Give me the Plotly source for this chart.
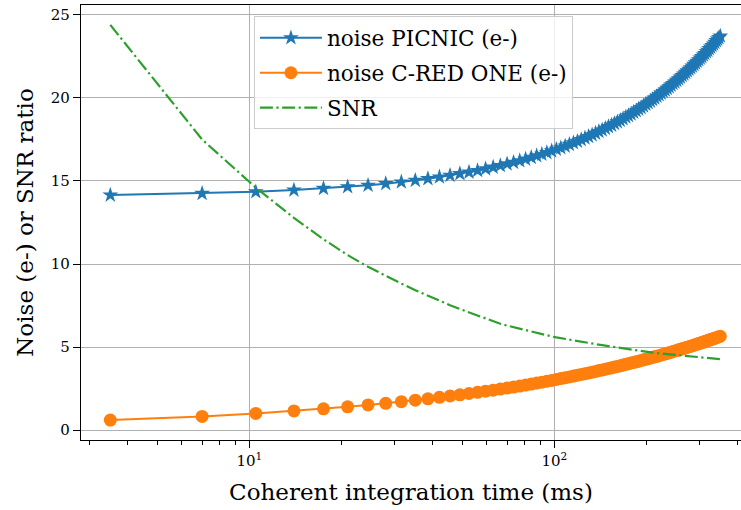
import plotly.graph_objects as go

# Coherent integration time (ms)
t_ms = [3.5, 7, 10.5, 14, 17.5, 21, 24.5, 28, 31.5, 35,
        38.5, 42, 45.5, 49, 52.5, 56, 59.5, 63, 66.5, 70,
        73.5, 77, 80.5, 84, 87.5, 91, 94.5, 98, 101.5, 105,
        108.5, 112, 115.5, 119, 122.5, 126, 129.5, 133, 136.5, 140,
        143.5, 147, 150.5, 154, 157.5, 161, 164.5, 168, 171.5, 175,
        178.5, 182, 185.5, 189, 192.5, 196, 199.5, 203, 206.5, 210,
        213.5, 217, 220.5, 224, 227.5, 231, 234.5, 238, 241.5, 245,
        248.5, 252, 255.5, 259, 262.5, 266, 269.5, 273, 276.5, 280,
        283.5, 287, 290.5, 294, 297.5, 301, 304.5, 308, 311.5, 315,
        318.5, 322, 325.5, 329, 332.5, 336, 339.5, 343, 346.5, 350]

noise_picnic = [14.15, 14.25, 14.35, 14.45, 14.55, 14.65, 14.74, 14.84, 14.94, 15.04,
                15.14, 15.24, 15.34, 15.44, 15.53, 15.63, 15.73, 15.83, 15.93, 16.03,
                16.12, 16.22, 16.32, 16.42, 16.52, 16.61, 16.71, 16.81, 16.91, 17.00,
                17.10, 17.20, 17.30, 17.39, 17.49, 17.59, 17.68, 17.78, 17.88, 17.98,
                18.07, 18.17, 18.27, 18.36, 18.46, 18.56, 18.65, 18.75, 18.85, 18.94,
                19.04, 19.14, 19.23, 19.33, 19.42, 19.52, 19.62, 19.71, 19.81, 19.91,
                20.00, 20.10, 20.19, 20.29, 20.39, 20.48, 20.58, 20.67, 20.77, 20.87,
                20.96, 21.06, 21.15, 21.25, 21.35, 21.44, 21.54, 21.63, 21.73, 21.82,
                21.92, 22.02, 22.11, 22.21, 22.30, 22.40, 22.49, 22.59, 22.68, 22.78,
                22.87, 22.97, 23.06, 23.16, 23.25, 23.35, 23.45, 23.54, 23.63, 23.73]

noise_cred = [0.60, 0.82, 1.00, 1.15, 1.28, 1.40, 1.51, 1.61, 1.71, 1.80,
              1.88, 1.97, 2.05, 2.12, 2.20, 2.27, 2.34, 2.40, 2.47, 2.53,
              2.59, 2.65, 2.71, 2.77, 2.83, 2.88, 2.94, 2.99, 3.05, 3.10,
              3.15, 3.20, 3.25, 3.30, 3.35, 3.39, 3.44, 3.48, 3.53, 3.58,
              3.62, 3.66, 3.71, 3.75, 3.79, 3.83, 3.87, 3.92, 3.96, 4.00,
              4.04, 4.07, 4.11, 4.15, 4.19, 4.23, 4.27, 4.30, 4.34, 4.38,
              4.41, 4.45, 4.48, 4.52, 4.55, 4.59, 4.62, 4.66, 4.69, 4.73,
              4.76, 4.79, 4.83, 4.86, 4.89, 4.92, 4.96, 4.99, 5.02, 5.05,
              5.08, 5.11, 5.15, 5.18, 5.21, 5.24, 5.27, 5.30, 5.33, 5.36,
              5.39, 5.42, 5.45, 5.48, 5.50, 5.53, 5.56, 5.59, 5.62, 5.65]

snr = [24.40, 17.50, 14.60, 12.78, 11.49, 10.54, 9.83, 9.28, 8.82, 8.42,
       8.08, 7.79, 7.52, 7.29, 7.08, 6.88, 6.71, 6.55, 6.40, 6.29,
       6.19, 6.10, 6.01, 5.93, 5.85, 5.77, 5.70, 5.64, 5.58, 5.53,
       5.48, 5.44, 5.40, 5.36, 5.32, 5.28, 5.24, 5.21, 5.17, 5.14,
       5.11, 5.08, 5.05, 5.02, 4.99, 4.96, 4.93, 4.91, 4.88, 4.86,
       4.84, 4.81, 4.79, 4.77, 4.75, 4.72, 4.70, 4.69, 4.67, 4.66,
       4.65, 4.63, 4.62, 4.61, 4.60, 4.59, 4.57, 4.56, 4.55, 4.54,
       4.53, 4.52, 4.51, 4.50, 4.49, 4.48, 4.47, 4.46, 4.45, 4.44,
       4.43, 4.42, 4.41, 4.40, 4.39, 4.38, 4.37, 4.36, 4.36, 4.35,
       4.34, 4.33, 4.32, 4.32, 4.31, 4.30, 4.29, 4.28, 4.28, 4.27]

x_major_ticks = [10, 100]
x_major_labels = ["10<sup>1</sup>", "10<sup>2</sup>"]
x_minor_ticks = [3, 4, 5, 6, 7, 8, 9, 20, 30, 40, 50, 60, 70, 80, 90, 200, 300, 400]
y_ticks = [0, 5, 10, 15, 20, 25]

FONT = "DejaVu Serif"

fig = go.Figure()
fig.add_trace(go.Scatter(
    x=t_ms, y=noise_picnic, mode="lines+markers", name="noise PICNIC (e-)",
    legendgroup="a",
    line=dict(color="#1f77b4", width=2),
    marker=dict(symbol="star", size=12, color="#1f77b4", line=dict(width=0))))
fig.add_trace(go.Scatter(
    x=t_ms, y=noise_cred, mode="lines+markers", name="noise C-RED ONE (e-)",
    legendgroup="b",
    line=dict(color="#ff7f0e", width=2),
    marker=dict(symbol="circle", size=13, color="#ff7f0e", line=dict(width=0))))
fig.add_trace(go.Scatter(
    x=t_ms, y=snr, mode="lines", name="SNR", legendgroup="c",
    line=dict(color="#2ca02c", width=2.2, dash="13px,3.5px,2.2px,3.5px")))

fig.update_layout(
    width=741, height=510,
    margin=dict(l=81, r=0, t=5, b=70, autoexpand=False),
    paper_bgcolor="white", plot_bgcolor="white",
    font=dict(family=FONT, size=15, color="black"),
    showlegend=True,
    legend=dict(x=0.262, y=0.974, xanchor="left", yanchor="top",
                bgcolor="rgba(255,255,255,0.8)", bordercolor="#cccccc", borderwidth=1,
                font=dict(family=FONT, size=21.5), traceorder="grouped", tracegroupgap=4,
                itemwidth=62),
)
fig.update_xaxes(
    type="log", range=[0.448, 2.612], automargin=False,
    tickmode="array", tickvals=x_major_ticks, ticktext=x_major_labels,
    ticks="outside", ticklen=7, tickwidth=1, tickcolor="black",
    tickfont=dict(family=FONT, size=15),
    showgrid=True, gridcolor="#b0b0b0", gridwidth=1,
    showline=True, linecolor="black", linewidth=1.3, mirror=True,
    zeroline=False,
    minor=dict(tickvals=x_minor_ticks, ticks="outside", ticklen=4, tickcolor="black", showgrid=False),
    title=dict(text="Coherent integration time (ms)", font=dict(family=FONT, size=23), standoff=14),
)
fig.update_yaxes(
    range=[-0.6, 25.6], tickmode="array", tickvals=y_ticks, automargin=False,
    ticks="outside", ticklen=7, tickwidth=1, tickcolor="black",
    tickfont=dict(family=FONT, size=15),
    showgrid=True, gridcolor="#b0b0b0", gridwidth=1,
    showline=True, linecolor="black", linewidth=1.3, mirror=False,
    zeroline=False,
    title=dict(text="Noise (e-) or SNR ratio", font=dict(family=FONT, size=23), standoff=10),
)

fig.write_html("out.html", config={"displayModeBar": False},
               post_script="document.body.style.margin='0';")
